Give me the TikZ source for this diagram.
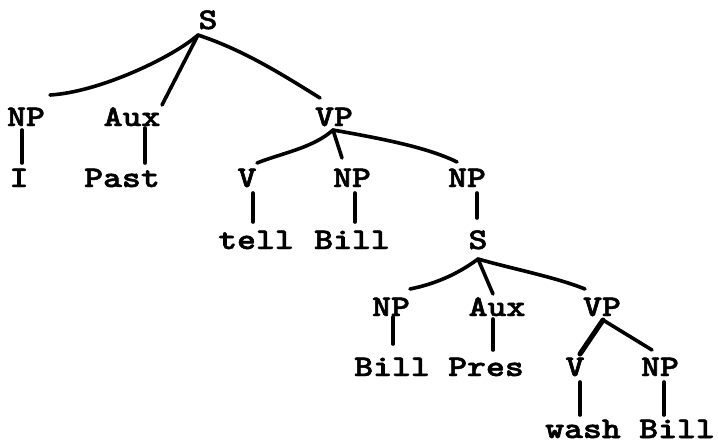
\documentclass[tikz,border=0pt]{standalone}
\usepackage{fontspec}
\newfontfamily\twfont{lmmonolt10-bold.otf}[FakeBold=1.6]
\newcommand\twtext[1]{\scalebox{1.2}[1]{#1}}
\begin{document}
\begin{tikzpicture}[x=0.75pt,y=-0.75pt,
  lbl/.style={font=\twfont\fontsize{22.5}{26}\selectfont, inner sep=0pt, text height=13.5pt, text depth=0pt},
  edge/.style={line width=2.7pt, line cap=round, line join=round},
  thickedge/.style={line width=3.8pt, line cap=round}]
\fill[white] (0,0) rectangle (718,444);
\useasboundingbox (0,0) rectangle (718,444);
% nodes
\node[lbl] (S1)   at (208,20)  {\twtext{S}};
\node[lbl] (NP1)  at (26,117)  {\twtext{NP}};
\node[lbl] (Aux1) at (132,117) {\twtext{Aux}};
\node[lbl] (VP1)  at (334,117) {\twtext{VP}};
\node[lbl] (I)    at (19,178)  {\twtext{I}};
\node[lbl] (Past) at (122,178) {\twtext{Past}};
\node[lbl] (V1)   at (247,178) {\twtext{V}};
\node[lbl] (NP2)  at (352,178) {\twtext{NP}};
\node[lbl] (NP3)  at (467,178) {\twtext{NP}};
\node[lbl] (tell) at (256,240) {\twtext{tell}};
\node[lbl] (Bill1) at (352,240) {\twtext{Bill}};
\node[lbl] (S2)   at (478,240) {\twtext{S}};
\node[lbl] (NP4)  at (391,307) {\twtext{NP}};
\node[lbl] (Aux2) at (497,307) {\twtext{Aux}};
\node[lbl] (VP2)  at (602,307) {\twtext{VP}};
\node[lbl] (Bill2) at (392,367) {\twtext{Bill}};
\node[lbl] (Pres) at (486,367) {\twtext{Pres}};
\node[lbl] (V2)   at (575,367) {\twtext{V}};
\node[lbl] (NP5)  at (660,367) {\twtext{NP}};
\node[lbl] (wash) at (583,429) {\twtext{wash}};
\node[lbl] (Bill3) at (677,429) {\twtext{Bill}};
% apex points
\coordinate (S1a) at ([shift={(-10,15)}]S1.center);
\coordinate (VP1a) at ([shift={(-1,13)}]VP1.center);
\coordinate (S2a) at ([shift={(0,19)}]S2.center);
\coordinate (VP2a) at ([shift={(1,13)}]VP2.center);
% edges: top S
\draw[edge] (S1a) .. controls +(-25,22) and +(50,-3) .. ([shift={(24,-22)}]NP1.center);
\draw[edge] (S1a) -- ([shift={(30,-12)}]Aux1.center);
\draw[edge] (S1a) .. controls +(45,15) and +(-40,-25) .. ([shift={(-14,-19)}]VP1.center);
\draw[edge] ([shift={(-4,13)}]NP1.center) -- ([shift={(3,-15)}]I.center);
\draw[edge] ([shift={(13,11)}]Aux1.center) -- ([shift={(23,-15)}]Past.center);
% VP1
\draw[edge] (VP1a) .. controls +(-20,18) and +(25,-10) .. ([shift={(10,-15)}]V1.center);
\draw[edge] (VP1a) -- ([shift={(-10,-20)}]NP2.center);
\draw[edge] (VP1a) .. controls +(45,8) and +(-30,-15) .. ([shift={(-10,-16)}]NP3.center);
\draw[edge] ([shift={(6,15)}]V1.center) -- ([shift={(-3,-18)}]tell.center);
\draw[edge] ([shift={(3,15)}]NP2.center) -- ([shift={(3,-18)}]Bill1.center);
\draw[edge] ([shift={(10,15)}]NP3.center) -- ([shift={(-1,-22)}]S2.center);
% S2
\draw[edge] (S2a) .. controls +(-20,15) and +(25,-5) .. ([shift={(19,-18)}]NP4.center);
\draw[edge] (S2a) -- ([shift={(-4,-13)}]Aux2.center);
\draw[edge] (S2a) .. controls +(35,10) and +(-30,-12) .. ([shift={(-17,-18)}]VP2.center);
\draw[edge] ([shift={(2,10)}]NP4.center) -- ([shift={(1,-23)}]Bill2.center);
\draw[edge] ([shift={(-4,12)}]Aux2.center) -- ([shift={(7,-17)}]Pres.center);
% VP2
\draw[thickedge] (VP2a) -- ([shift={(5,-13)}]V2.center);
\draw[edge] (VP2a) -- ([shift={(-8,-17)}]NP5.center);
\draw[edge] ([shift={(5,15)}]V2.center) -- ([shift={(-3,-14)}]wash.center);
\draw[edge] ([shift={(4,15)}]NP5.center) -- ([shift={(-13,-14)}]Bill3.center);
\end{tikzpicture}
\end{document}
